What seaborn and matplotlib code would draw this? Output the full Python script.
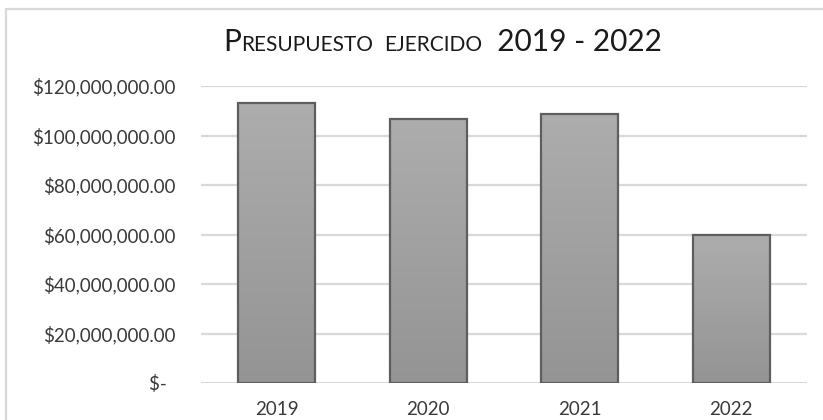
import numpy as np
import pandas as pd
import matplotlib
matplotlib.use("Agg")
import matplotlib.pyplot as plt
import seaborn as sns
from matplotlib.offsetbox import TextArea, HPacker, AnchoredOffsetbox
from matplotlib.patches import Rectangle

years = ["2019", "2020", "2021", "2022"]
values = [113_000_000, 106_500_000, 108_800_000, 60_000_000]
ytick_values = [0, 20e6, 40e6, 60e6, 80e6, 100e6, 120e6]
ytick_labels = ["$-  ", "$20,000,000.00", "$40,000,000.00", "$60,000,000.00",
                "$80,000,000.00", "$100,000,000.00", "$120,000,000.00"]

sns.set_theme(style="white")
plt.rcParams["font.family"] = ["Lato", "DejaVu Sans"]

W, H = 823, 420
fig = plt.figure(figsize=(W / 100, H / 100), dpi=100)
ax = fig.add_axes([201 / W, 1 - 383 / H, (807 - 201) / W, (383 - 86) / H])

df = pd.DataFrame({"year": years, "value": values})
sns.barplot(data=df, x="year", y="value", ax=ax, color="#a0a0a0",
            width=0.51, edgecolor="#5e5e5e", linewidth=1.6, zorder=3)

ax.set_ylim(0, 120e6)
ax.set_yticks(ytick_values)
ax.set_yticklabels(ytick_labels)
ax.set_xlabel("")
ax.set_ylabel("")
for s in ax.spines.values():
    s.set_visible(False)
ax.grid(axis="y", color="#d9d9d9", linewidth=1.6, zorder=0)
ax.grid(axis="x", visible=False)
ax.tick_params(axis="y", length=0, pad=18, labelsize=13.5, labelcolor="#3a3a3a")
ax.tick_params(axis="x", length=0, pad=13, labelsize=13.5, labelcolor="#3a3a3a")

# gradient fill clipped to each bar
grad = np.linspace(0, 1, 256).reshape(-1, 1)
cmap = matplotlib.colors.LinearSegmentedColormap.from_list("g", ["#949494", "#adadad"])
for p in ax.patches:
    x0, y0 = p.get_x(), p.get_y()
    w, h = p.get_width(), p.get_height()
    im = ax.imshow(grad, extent=[x0, x0 + w, y0, y0 + h], origin="lower",
                   cmap=cmap, aspect="auto", zorder=3.5)
    im.set_clip_path(p)
    p.set_facecolor("none")
    p.set_zorder(4)
ax.set_xlim(-0.5, 3.5)
ax.set_ylim(0, 120e6)

# chart border
fig.patches.append(Rectangle((6 / W, -0.1), 1.1, 1 - 9 / H + 0.1, transform=fig.transFigure,
                             fill=False, edgecolor="#d9d9d9", linewidth=1.6))

# small-caps title
big, small = 21.5, 15
col = "#1a1a1a"
parts = [("P", big), ("RESUPUESTO", small), ("  ", small), ("EJERCIDO", small), ("  2019 - 2022", big)]
areas = [TextArea(t, textprops=dict(fontsize=s, color=col)) for t, s in parts]
box = HPacker(children=areas, align="baseline", pad=0, sep=0)
anch = AnchoredOffsetbox(loc="center", child=box, frameon=False,
                         bbox_to_anchor=(443 / W, 1 - 42 / H), bbox_transform=fig.transFigure,
                         borderpad=0, pad=0)
fig.add_artist(anch)

fig.savefig("out.png", dpi=100)
